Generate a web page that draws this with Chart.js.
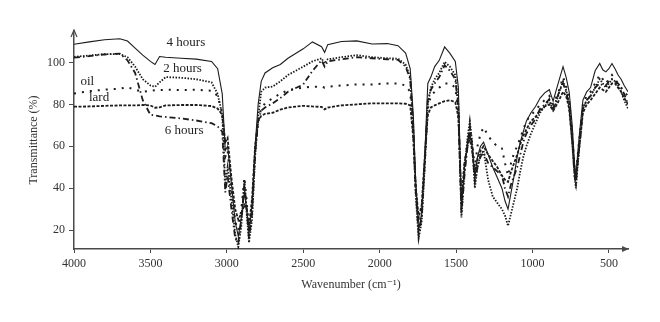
<!DOCTYPE html>
<html>
<head>
<meta charset="utf-8">
<script src="https://cdn.jsdelivr.net/npm/chart.js@4.4.1/dist/chart.umd.min.js"></script>
<style>
  html, body { margin: 0; padding: 0; background: #fff; }
  #wrap { width: 660px; height: 322px; }
</style>
</head>
<body>
<div id="wrap"><canvas id="ftirChart" width="660" height="322"></canvas></div>
<script>
// wavenumbers (cm-1), shared by every spectrum
const waves = [4000, 3900, 3800, 3700, 3650, 3600, 3550, 3500, 3470, 3440, 3400, 3300, 3200, 3100, 3060, 3030,
  3010, 2995, 2970, 2945, 2925, 2905, 2885, 2870, 2855, 2835, 2815, 2795, 2775, 2750, 2700, 2650, 2600, 2500,
  2440, 2380, 2360, 2340, 2250, 2150, 2050, 1950, 1880, 1830, 1800, 1780, 1765, 1745, 1725, 1705, 1685, 1665,
  1640, 1610, 1575, 1540, 1505, 1485, 1465, 1445, 1425, 1410, 1395, 1377, 1360, 1340, 1320, 1290, 1260, 1230,
  1200, 1180, 1160, 1140, 1120, 1100, 1080, 1060, 1040, 1010, 980, 950, 920, 890, 865, 840, 820, 800, 780, 760,
  740, 725, 716, 705, 690, 670, 645, 620, 590, 560, 540, 520, 500, 480, 460, 440, 420, 400, 375];

// transmittance (%)
const hours4 = [108.7, 109.8, 110.8, 111.3, 110.2, 106.8, 103.5, 100.5, 99.0, 102.8, 102.5, 102.0, 101.6, 100.5, 97, 85,
  58, 60, 42, 24, 17, 26, 38, 30, 19, 32, 60, 80, 91, 95, 97.5, 99, 102, 106.5,
  109.8, 107.5, 104.8, 108.5, 110, 110.3, 108.8, 109, 108, 104.5, 97, 75, 45, 20, 28, 55, 90, 93,
  98, 101, 107.4, 104.3, 100.5, 88, 30, 50, 62, 66, 60, 45, 55, 60, 62, 56, 50, 45,
  40, 34, 30, 38, 46, 55, 62, 67, 72, 76, 79, 83, 85.5, 87, 81.5, 88, 93, 98, 93, 86,
  70, 52, 45, 56, 68, 82, 86, 88, 96, 99.5, 96.5, 95.5, 97, 99.5, 97, 94, 92, 89, 86];

const hours2 = [102.7, 103.3, 104, 104, 102.5, 98, 92, 89, 88.4, 90.5, 93, 92.7, 92, 90.5, 85, 75,
  42, 50, 35, 18, 12, 22, 44, 28, 14, 25, 55, 74, 86, 88, 88.5, 91, 94, 98,
  100.5, 102, 99.5, 101.5, 102.5, 103.5, 102.5, 102, 101.8, 99, 93, 70, 38, 16, 24, 50, 80, 88,
  92, 95, 100.3, 98, 94, 80, 26, 48, 64, 72, 62, 40, 50, 56, 58, 44, 36, 33,
  30, 27, 22, 28, 34, 40, 48, 55, 60, 66, 71, 76, 79, 82, 77, 82, 87, 91, 87, 80,
  64, 46, 40, 50, 63, 78, 82, 84, 88, 92, 90, 88, 90, 92, 91, 89, 86, 82, 78];

const oil = [85.2, 86.3, 87, 87.5, 88.2, 87, 86, 86.5, 86.8, 86.8, 87, 86.8, 87, 86.5, 84, 76,
  55, 58, 40, 24, 20, 30, 45, 34, 18, 30, 58, 72, 78, 80.5, 83, 85, 86.8, 88,
  88.4, 88.5, 88, 88.4, 89, 89.5, 89.5, 90, 90, 89, 86, 66, 40, 22, 28, 52, 78, 84,
  86, 88, 90, 90, 88, 76, 32, 52, 62, 68, 62, 50, 60, 66, 69, 65, 62, 60,
  59, 52, 46, 52, 57, 60, 64, 68, 72, 75, 77, 80, 82, 84, 80, 84, 88, 93, 89, 82,
  66, 50, 46, 55, 66, 80, 84, 86, 90, 94, 92, 90, 92, 94, 92, 90, 88, 86, 84];

const lard = [78.9, 79, 79.3, 79.5, 79.5, 79.5, 79.7, 79.5, 78.4, 78.6, 79.5, 79.7, 79.7, 79.2, 78, 75,
  62, 64, 45, 30, 25, 28, 32, 30, 22, 35, 60, 72, 74.5, 75.5, 76, 77.5, 78.5, 79.3,
  79, 78.8, 77.6, 78.5, 79.5, 80, 80.5, 80.5, 80.5, 80.3, 79.5, 64, 42, 26, 32, 55, 75, 78.5,
  79.5, 80.5, 81.5, 82, 81, 74, 34, 52, 60, 64, 58, 47, 54, 58, 60, 56, 53, 50,
  46, 44, 43, 48, 52, 56, 61, 65, 68, 72, 74, 77, 79, 80, 77, 80, 83, 86, 84, 78,
  62, 48, 44, 52, 62, 76, 80, 82, 85, 88, 87, 86, 88, 90, 90, 88, 86, 83, 80];

const hours6 = [102.3, 103, 103.8, 104.2, 101, 95, 82, 75, 74.7, 74.3, 74, 73.3, 72.3, 71, 69.5, 67,
  38, 46, 30, 16, 14, 25, 42, 30, 16, 28, 56, 72, 77, 78.5, 80.5, 83, 86, 89.5,
  96, 101, 98, 100.5, 101.5, 102.5, 102, 101.5, 101.2, 98, 92, 68, 40, 18, 26, 52, 82, 87,
  90, 93, 98.7, 96, 92, 78, 28, 46, 60, 70, 60, 43, 50, 55, 57, 52, 50, 48,
  46, 40, 36, 42, 46, 50, 56, 62, 66, 70, 73, 78, 80, 82.5, 78, 83, 87, 90, 86, 80,
  62, 46, 42, 52, 62, 78, 82, 84, 88, 90, 89, 89, 91, 92, 91, 90, 88, 85, 80];

const xTicks = [4000, 3500, 3000, 2500, 2000, 1500, 1000, 500];
const yTicks = [20, 40, 60, 80, 100];

// curve names, placed next to their spectra
const labelText = ["4 hours", "2 hours", "oil", "lard", "6 hours"];
const labelWave = [3268, 3290, 3913, 3836, 3279];
const labelValue = [109.7, 97.1, 91.1, 83.1, 67.3];

const ink = "#1c1c1c";
const axisColor = "#4a4a4a";
const serif = "'Liberation Serif', 'DejaVu Serif', serif";

function toPoints(values) {
  return waves.map((w, i) => ({ x: w, y: values[i] }));
}

const curveLabels = {
  id: "curveLabels",
  afterDatasetsDraw(chart) {
    const { ctx, scales: { x, y } } = chart;
    ctx.save();
    ctx.font = "13px " + serif;
    ctx.fillStyle = "#222";
    ctx.textAlign = "center";
    ctx.textBaseline = "middle";
    labelText.forEach((t, i) => {
      ctx.fillText(t, x.getPixelForValue(labelWave[i]), y.getPixelForValue(labelValue[i]));
    });
    ctx.restore();
  }
};

// arrowheads at the ends of both axes
const axisArrows = {
  id: "axisArrows",
  afterDraw(chart) {
    const { ctx, chartArea: a } = chart;
    ctx.save();
    ctx.strokeStyle = axisColor;
    ctx.fillStyle = axisColor;
    ctx.lineWidth = 1.2;
    ctx.beginPath();
    ctx.moveTo(a.left - 3, a.top + 6);
    ctx.lineTo(a.left, a.top - 1);
    ctx.lineTo(a.left + 3, a.top + 6);
    ctx.stroke();
    ctx.beginPath();
    ctx.moveTo(a.right - 6, a.bottom - 3);
    ctx.lineTo(a.right + 1, a.bottom);
    ctx.lineTo(a.right - 6, a.bottom + 3);
    ctx.closePath();
    ctx.fill();
    ctx.restore();
  }
};

const ctx = document.getElementById("ftirChart").getContext("2d");
const chart = new Chart(ctx, {
  type: "line",
  data: {
    datasets: [
      { label: "4 hours", data: toPoints(hours4), borderColor: ink, borderWidth: 1.1 },
      { label: "2 hours", data: toPoints(hours2), borderColor: ink, borderWidth: 1.8, borderDash: [1.5, 1.5] },
      { label: "oil", data: toPoints(oil), borderColor: ink, borderWidth: 2, borderDash: [2, 6] },
      { label: "lard", data: toPoints(lard), borderColor: ink, borderWidth: 1.8, borderDash: [3, 1.5] },
      { label: "6 hours", data: toPoints(hours6), borderColor: ink, borderWidth: 1.8, borderDash: [6, 3, 1.5, 3] }
    ]
  },
  options: {
    responsive: false,
    animation: false,
    layout: { padding: { left: 0, right: 32, top: 31, bottom: 0 } },
    elements: { point: { radius: 0 }, line: { tension: 0, fill: false } },
    plugins: { legend: { display: false }, tooltip: { enabled: false } },
    scales: {
      x: {
        type: "linear",
        reverse: true,
        min: 375,
        max: 4000,
        afterBuildTicks: s => { s.ticks = xTicks.map(v => ({ value: v })); },
        afterFit: s => { s.height = 73; },
        border: { display: true, color: axisColor, width: 1.5 },
        grid: { drawOnChartArea: false, drawTicks: true, tickLength: 4, tickColor: axisColor },
        ticks: {
          color: "#333",
          font: { family: serif, size: 12 },
          padding: 4,
          maxRotation: 0,
          callback: v => String(v)
        },
        title: {
          display: true,
          text: "Wavenumber (cm⁻¹)",
          color: "#333",
          font: { family: serif, size: 12 },
          padding: { top: 4, bottom: 30 }
        }
      },
      y: {
        type: "linear",
        min: 11,
        max: 115,
        afterBuildTicks: s => { s.ticks = yTicks.map(v => ({ value: v })); },
        afterFit: s => { s.width = 74; },
        border: { display: true, color: axisColor, width: 1.5 },
        grid: { drawOnChartArea: false, drawTicks: true, tickLength: 5, tickColor: axisColor },
        ticks: { color: "#333", font: { family: serif, size: 12 }, padding: 4, callback: v => String(v) },
        title: {
          display: true,
          text: "Transmittance (%)",
          color: "#333",
          font: { family: serif, size: 12 },
          padding: { top: 27, bottom: 0 }
        }
      }
    }
  },
  plugins: [curveLabels, axisArrows]
});
</script>
</body>
</html>
